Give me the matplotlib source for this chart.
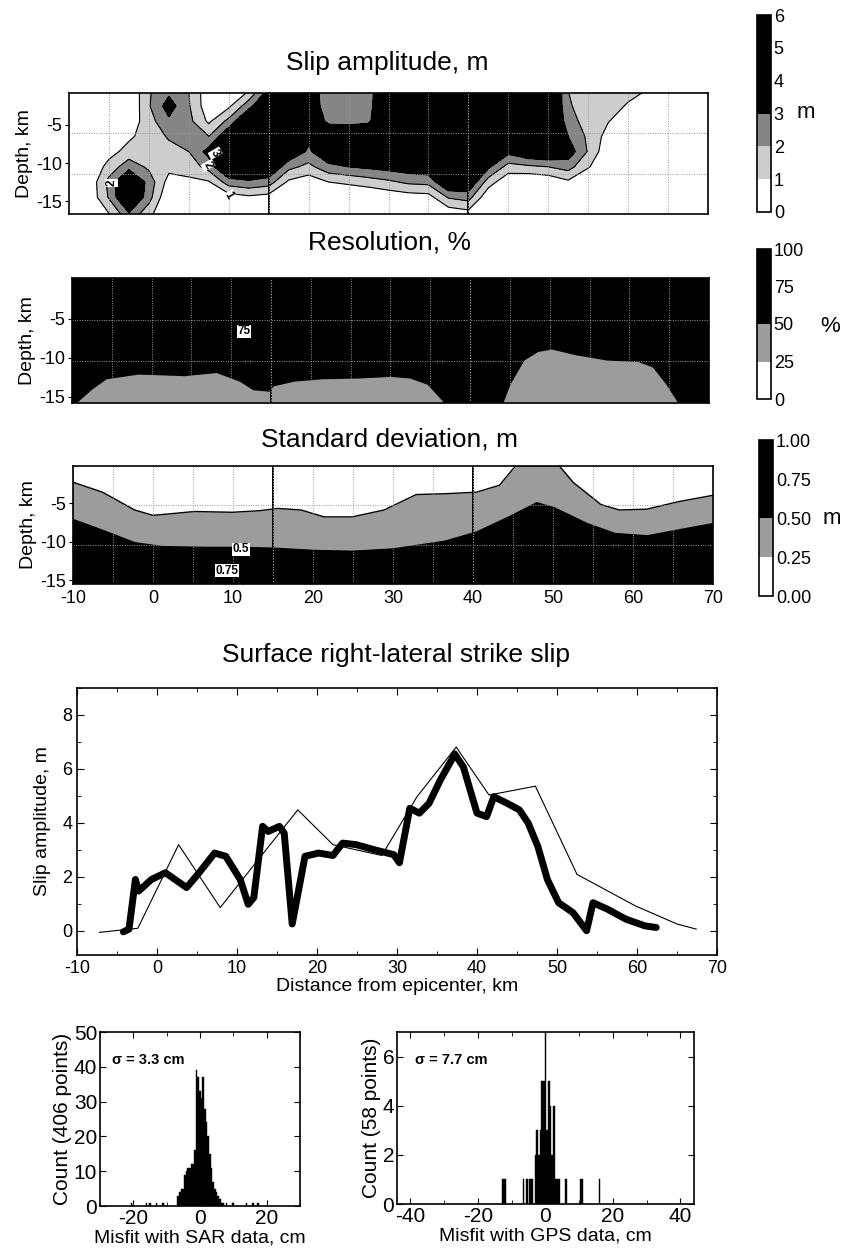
import numpy as np
import matplotlib
matplotlib.use("Agg")
import matplotlib.pyplot as plt
from matplotlib.colors import ListedColormap, BoundaryNorm
from matplotlib.cm import ScalarMappable
from matplotlib.ticker import MultipleLocator

plt.rcParams['font.family'] = ['Liberation Sans', 'DejaVu Sans']
plt.rcParams['axes.unicode_minus'] = False

# ---- slip model (m) on the fault grid: one list per along-strike column, top to bottom
slip_x = [-10, -7.5, -5, -2.5, 0, 2.5, 5, 7.5, 10, 12.5, 15, 17.5, 20, 22.5, 25, 27.5,
          30, 32.5, 35, 37.5, 40, 42.5, 45, 47.5, 50, 52.5, 55, 57.5, 60, 62.5, 65, 67.5, 70]
slip_depth = [-0.5, -2.5, -4.5, -6.5, -8.5, -10.5, -12.5, -14.5, -17.0]
slip_cols = [
    [0, 0, 0, 0, 0, 0, 0, 0, 0],
    [0, 0, 0, 0, 0, 0, 0.2, 0.2, 0],
    [0, 0, 0, 0.2, 0.6, 1.4, 2.3, 2.1, 0.8],
    [0, 0, 0.3, 0.8, 1.4, 2.6, 4.6, 4.6, 2.6],
    [1.9, 1.9, 1.6, 1.5, 1.6, 1.8, 2.6, 2.4, 1.2],
    [2.7, 3.5, 2.8, 2.1, 1.7, 1.3, 0.6, 0, 0],
    [2.0, 2.1, 2.3, 2.3, 2.0, 1.4, 0.8, 0.3, 0],
    [0.3, 0.3, 0.8, 2.0, 3.4, 2.4, 0.9, 0, 0],
    [0.3, 0.8, 2.3, 4.0, 5.0, 4.5, 2.5, 0.5, 0],
    [1.0, 2.6, 4.5, 5, 5, 4.5, 2.8, 0.8, 0],
    [3.3, 4.5, 5, 5, 5, 4.2, 2.5, 0.6, 0],
    [5, 5, 5, 5, 4.0, 2.3, 0.8, 0, 0],
    [3.6, 3.8, 4.2, 3.3, 2.8, 1.7, 0.4, 0, 0],
    [2.4, 2.4, 2.7, 4.2, 4.0, 2.7, 1.0, 0, 0],
    [2.3, 2.3, 2.6, 4.2, 4.2, 3.0, 1.2, 0, 0],
    [2.6, 2.6, 2.8, 4.2, 4.3, 3.2, 1.5, 0, 0],
    [4.2, 4.5, 4.5, 4.5, 4.5, 3.4, 1.8, 0.3, 0],
    [5, 5, 5, 5, 5, 3.6, 2.2, 0.5, 0],
    [5, 5, 5, 5, 5, 3.8, 2.3, 0.6, 0],
    [5, 5, 5, 5, 5, 5, 4.2, 2.1, 0],
    [5, 5, 5, 5, 5, 5, 4.0, 2.4, 0.3],
    [5, 5, 5, 5, 5, 3.2, 1.5, 0.2, 0],
    [5, 5, 5, 5, 3.3, 1.6, 0.2, 0, 0],
    [5, 5, 5, 5, 4.0, 1.8, 0, 0, 0],
    [5, 5, 5, 5, 4.2, 2.0, 0.2, 0, 0],
    [2.0, 2.1, 2.4, 3.0, 3.6, 2.4, 0.8, 0, 0],
    [1.6, 1.6, 1.6, 1.8, 1.9, 1.1, 0, 0, 0],
    [1.5, 1.4, 1.05, 0.6, 0.2, 0, 0, 0, 0],
    [1.3, 0.9, 0.4, 0, 0, 0, 0, 0, 0],
    [0.95, 0.4, 0, 0, 0, 0, 0, 0, 0],
    [0, 0, 0, 0, 0, 0, 0, 0, 0],
    [0, 0, 0, 0, 0, 0, 0, 0, 0],
    [0, 0, 0, 0, 0, 0, 0, 0, 0],
]

# ---- resolution: depth of the 50 % contour for the two poorly resolved patches
res_bump1_x = [-9.5, -7.5, -5.7, -1.7, 4.1, 8.1, 11.0, 12.7, 14.7, 15.3, 17.9, 21.4, 26.0, 30.0, 32.4, 34.6, 36.4, 36.7]
res_bump1_depth = [-15.8, -14.0, -12.7, -12.1, -12.3, -11.9, -13.0, -14.1, -14.3, -13.6, -13.0, -12.7, -12.6, -12.4, -12.6, -13.4, -15.4, -15.8]
res_bump2_x = [44.1, 45.0, 46.75, 48.5, 50.25, 53.1, 57.1, 61.1, 62.9, 64.6, 66.1]
res_bump2_depth = [-15.8, -13.4, -10.3, -9.2, -8.9, -9.6, -10.3, -10.5, -11.2, -13.4, -15.8]

# ---- standard deviation: depth of the 0.25 m and 0.5 m contours
std_upper_x = [-10, -6.3, -2.3, 0, 5.2, 9.9, 13.3, 15.6, 18.5, 21.4, 24.9, 28.9, 32.9, 36.4,
               40.4, 43.3, 45.3, 50.8, 52.5, 56.0, 58.3, 61.7, 65.8, 70]
std_upper_depth = [-2.3, -3.6, -5.9, -6.6, -6.1, -6.2, -6.0, -5.7, -5.9, -6.8, -6.8, -5.9, -3.9, -3.8,
                   -3.6, -2.7, -0.2, -0.2, -2.3, -5.2, -5.9, -5.8, -4.8, -4.0]
std_lower_x = [-10, -6.3, -2.3, 1.2, 6.4, 11.0, 15.0, 20.25, 24.9, 30.0, 36.4, 40.4, 44.5, 47.9,
               50.2, 54.2, 57.7, 61.7, 65.8, 70]
std_lower_depth = [-7.0, -8.4, -10.0, -10.5, -10.6, -10.6, -10.7, -11.0, -11.1, -10.8, -9.8, -8.6, -6.6, -4.8,
                   -5.5, -7.5, -8.8, -9.1, -8.3, -7.5]

# ---- surface slip: model (thick) and field measurements (thin)
thin_x = [-7.2, -2.4, 2.7, 7.9, 17.6, 22.0, 28.1, 32.5, 37.4, 41.5, 47.3, 52.5, 59.8, 65.0, 67.4]
thin_slip = [-0.06, 0.09, 3.19, 0.86, 4.48, 3.19, 2.79, 4.97, 6.81, 5.03, 5.36, 2.09, 0.92, 0.25, 0.06]
thick_x = [-4.2, -3.5, -2.7, -2.3, -0.7, 1.05, 3.7, 5.1, 7.2, 8.6, 10.4, 11.4, 12.1, 13.2, 13.9, 15.3,
           15.9, 16.9, 18.5, 20.2, 22.0, 23.2, 24.9, 27.2, 29.6, 30.3, 31.6, 32.8, 34.0, 35.4, 36.8,
           37.2, 38.3, 40.0, 41.2, 42.1, 43.8, 45.3, 46.4, 47.6, 48.8, 50.2, 52.0, 53.7, 54.5, 56.3,
           58.6, 61.0, 62.4]
thick_slip = [-0.04, 0.06, 1.9, 1.47, 1.9, 2.15, 1.6, 2.09, 2.88, 2.76, 1.9, 0.98, 1.23, 3.87, 3.68, 3.87,
              3.62, 0.25, 2.76, 2.88, 2.79, 3.25, 3.19, 3.0, 2.82, 2.52, 4.54, 4.36, 4.72, 5.58, 6.32,
              6.56, 6.07, 4.36, 4.23, 4.97, 4.72, 4.48, 3.99, 3.13, 1.9, 1.04, 0.67, 0.0, 1.04, 0.80,
              0.43, 0.18, 0.12]

# ---- misfit histograms (bin centre in cm, count)
sar_misfit = [-20.5, -16, -15, -13, -11, -6.5, -6, -5.5, -5, -4.5, -4, -3.5, -3, -2.5, -2, -1.5,
              -1, -0.5, 0, 0.5, 1, 1.5, 2, 2.5, 3, 3.5, 4, 4.5, 5, 5.5, 6, 6.5, 7, 8, 10, 14, 16, 17.5]
sar_count = [1, 1, 1, 1, 1, 3, 4, 5, 5, 9, 10, 11, 11, 12, 12, 16,
             39, 37, 33, 31, 37, 28, 24, 20, 15, 11, 7, 5, 4, 3, 2, 1, 1, 1, 1, 1, 1, 1]
gps_misfit = [-12.5, -12, -6.5, -5.5, -4.5, -4, -3, -2.5, -2, -1.5, -1, -0.5, 0, 0.5, 1, 1.5,
              2, 2.5, 3, 3.5, 4, 6, 10.5, 11, 16]
gps_count = [1, 1, 1, 1, 1, 1, 2, 3, 2, 3, 5, 5, 7, 3, 5, 4, 2, 4, 1, 1, 1, 1, 1, 1, 1]

W, H = 854, 1251
LGRAY, DGRAY, MGRAY = '#cdcdcd', '#858585', '#9c9c9c'


def rect(l, t, r, b):
    return [l / W, 1 - b / H, (r - l) / W, (b - t) / H]


fig = plt.figure(figsize=(W / 100, H / 100), dpi=100)


def fault_panel(ax, ylim):
    ax.set_xlim(-10, 70)
    ax.set_ylim(*ylim)
    ax.set_yticks([-5, -10, -15])
    ax.tick_params(axis='y', labelsize=13, length=3, pad=2)
    ax.tick_params(axis='x', length=0, labelbottom=False)
    for gx in range(-5, 70, 5):
        if gx in (15, 40):
            continue
        ax.axvline(gx, color='0.6', lw=0.7, ls=(0, (1, 1.5)), zorder=3)
    for fr in (1 / 3, 2 / 3):
        ax.axhline(ylim[0] + fr * (ylim[1] - ylim[0]), color='0.6', lw=0.7, ls=(0, (1, 1.5)), zorder=3)
    for sx in (15, 40):
        ax.axvline(sx, color='k', lw=1.4, zorder=4)
        ax.axvline(sx, color='0.7', lw=0.8, ls=(0, (1, 1.5)), zorder=5)
    ax.set_ylabel('Depth, km', fontsize=14, labelpad=2)
    for s in ax.spines.values():
        s.set_linewidth(1.2)
        s.set_zorder(6)


def label(ax, x, y, txt, rot=0):
    ax.text(x, y, txt, fontsize=8.5, fontweight='bold', rotation=rot, ha='center', va='center', zorder=7,
            bbox=dict(boxstyle='square,pad=0.05', fc='white', ec='none'))


# ---- slip amplitude
ax1 = fig.add_axes(rect(69, 93, 708, 214))
Z = np.array(slip_cols).T
ax1.contourf(slip_x, slip_depth, Z, levels=[0, 1, 2, 3, 100], colors=['white', LGRAY, DGRAY, 'black'])
ax1.contour(slip_x, slip_depth, Z, levels=[1, 2, 3], colors='k', linewidths=0.8)
fault_panel(ax1, (-16.7, -0.8))
label(ax1, -4.7, -12.6, '2', 90)
label(ax1, 8.3, -8.7, '3', -60)
label(ax1, 7.4, -10.3, '2', -60)
label(ax1, 10.0, -14.3, '1', -60)
fig.text(387 / W, 1 - 63 / H, 'Slip amplitude, m', fontsize=19, ha='center', va='center')

# ---- resolution
ax2 = fig.add_axes(rect(72, 278, 709, 403))
ax2.set_facecolor('black')
ax2.fill_between(res_bump1_x, -15.8, res_bump1_depth, color=MGRAY, lw=0, zorder=2)
ax2.fill_between(res_bump2_x, -15.8, res_bump2_depth, color=MGRAY, lw=0, zorder=2)
fault_panel(ax2, (-15.8, 0.2))
label(ax2, 11.6, -6.6, '75')
fig.text(390 / W, 1 - 242 / H, 'Resolution, %', fontsize=19, ha='center', va='center')

# ---- standard deviation
ax3 = fig.add_axes(rect(73, 466, 713, 584))
ax3.set_facecolor('black')
ax3.fill_between(std_lower_x, std_lower_depth, 0, color=MGRAY, lw=0, zorder=1)
ax3.fill_between(std_upper_x, std_upper_depth, 0, color='white', lw=0, zorder=2)
ax3.plot(std_upper_x, std_upper_depth, color='k', lw=1.0, zorder=3)
fault_panel(ax3, (-15.5, -0.2))
ax3.set_xticks(range(-10, 71, 10))
ax3.tick_params(axis='x', labelbottom=True, labelsize=13, length=0, pad=4)
label(ax3, 11.0, -11.0, '0.5')
label(ax3, 9.3, -13.8, '0.75')
fig.text(390 / W, 1 - 440 / H, 'Standard deviation, m', fontsize=19, ha='center', va='center')


# ---- colour bars
def add_cbar(r, bounds, colors, ticks, fmt):
    cax = fig.add_axes(r)
    cmap = ListedColormap(colors)
    norm = BoundaryNorm(bounds, cmap.N)
    cb = fig.colorbar(ScalarMappable(norm=norm, cmap=cmap), cax=cax, ticks=ticks, spacing='proportional')
    cb.set_ticklabels([fmt.format(t) for t in ticks])
    cb.ax.tick_params(length=0, labelsize=13, pad=2)
    cb.outline.set_linewidth(1.2)
    return cb


add_cbar(rect(757, 15, 771, 212), [0, 1, 2, 3, 6], ['white', LGRAY, DGRAY, 'black'], [0, 1, 2, 3, 4, 5, 6], '{:g}')
fig.text(806 / W, 1 - 113 / H, 'm', fontsize=16, ha='center', va='center')
add_cbar(rect(757, 249, 771, 399), [0, 25, 50, 100], ['white', MGRAY, 'black'], [0, 25, 50, 75, 100], '{:g}')
fig.text(830 / W, 1 - 326 / H, '%', fontsize=16, ha='center', va='center')
add_cbar(rect(759, 440, 773, 596), [0, 0.25, 0.5, 1.0], ['white', MGRAY, 'black'], [0, 0.25, 0.5, 0.75, 1.0], '{:.2f}')
fig.text(832 / W, 1 - 518 / H, 'm', fontsize=16, ha='center', va='center')

# ---- surface slip
ax4 = fig.add_axes(rect(77, 688, 717, 955))
ax4.plot(thin_x, thin_slip, color='k', lw=0.8)
ax4.plot(thick_x, thick_slip, color='k', lw=5, solid_joinstyle='round', solid_capstyle='round')
ax4.set_xlim(-10, 70)
ax4.set_ylim(-0.9, 9.0)
ax4.xaxis.set_major_locator(MultipleLocator(10))
ax4.xaxis.set_minor_locator(MultipleLocator(5))
ax4.yaxis.set_major_locator(MultipleLocator(2))
ax4.yaxis.set_minor_locator(MultipleLocator(1))
ax4.tick_params(which='both', direction='in', top=True, right=True, labelsize=13)
ax4.tick_params(which='major', length=5)
ax4.tick_params(which='minor', length=3)
ax4.set_xlabel('Distance from epicenter, km', fontsize=14, labelpad=1)
ax4.set_ylabel('Slip amplitude, m', fontsize=14, labelpad=8)
for s in ax4.spines.values():
    s.set_linewidth(1.2)
fig.text(396 / W, 1 - 655 / H, 'Surface right-lateral strike slip', fontsize=19, ha='center', va='center')


# ---- misfit histograms
def hist_panel(ax, centers, counts, xlim, ylim, xmaj, ymaj, sigma, xlabel, ylabel):
    ax.bar(centers, counts, width=0.5, color='k', edgecolor='k', lw=0.3)
    ax.set_xlim(*xlim)
    ax.set_ylim(*ylim)
    ax.xaxis.set_major_locator(MultipleLocator(xmaj))
    ax.xaxis.set_minor_locator(MultipleLocator(10))
    ax.yaxis.set_major_locator(MultipleLocator(ymaj))
    ax.tick_params(which='both', direction='in', top=True, right=True, labelsize=15, pad=2)
    ax.tick_params(which='major', length=4)
    ax.tick_params(which='minor', length=3)
    ax.text(0.06, 0.84, sigma, transform=ax.transAxes, fontsize=10.5, fontweight='bold', ha='left', va='center')
    ax.set_xlabel(xlabel, fontsize=14, labelpad=1)
    ax.set_ylabel(ylabel, fontsize=15, labelpad=1)
    for s in ax.spines.values():
        s.set_linewidth(1.2)


ax5 = fig.add_axes(rect(100, 1032, 300, 1206))
hist_panel(ax5, sar_misfit, sar_count, (-30, 30), (0, 50), 20, 10,
           'σ = 3.3 cm', 'Misfit with SAR data, cm', 'Count (406 points)')
ax6 = fig.add_axes(rect(397, 1032, 694, 1204))
hist_panel(ax6, gps_misfit, gps_count, (-44, 44), (0, 7), 20, 2,
           'σ = 7.7 cm', 'Misfit with GPS data, cm', 'Count (58 points)')

fig.savefig('out.png', dpi=100)
